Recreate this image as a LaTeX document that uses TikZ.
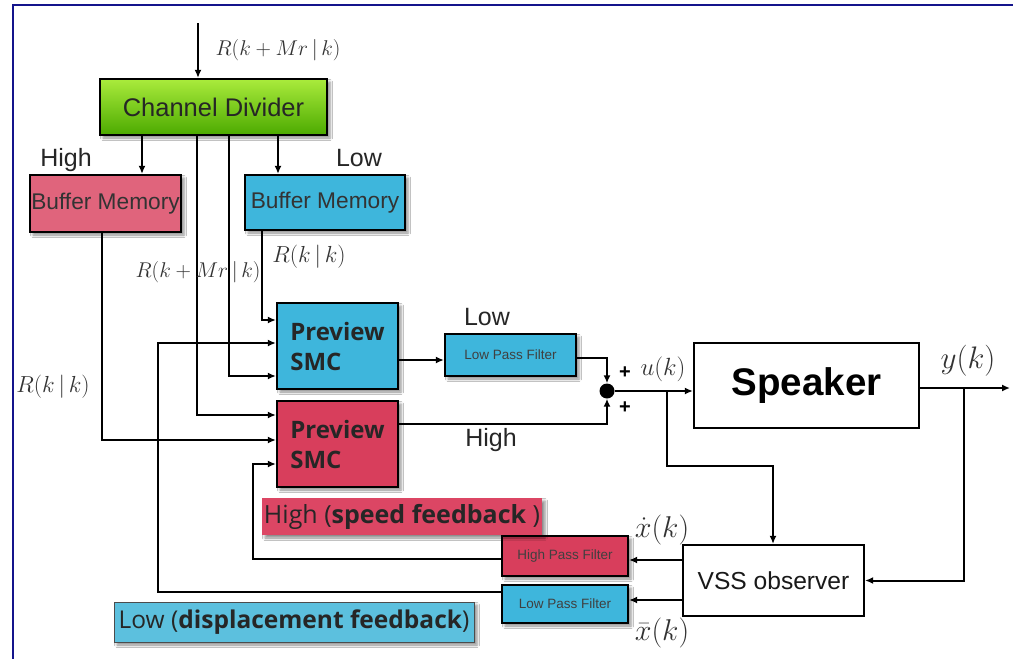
\documentclass[tikz,border=0pt]{standalone}
\usepackage{fontspec}
\setmainfont{Liberation Sans}
\newfontfamily\osans{Open Sans}
\usetikzlibrary{arrows.meta,shadows.blur,calc}
\definecolor{navyb}{RGB}{20,20,140}
\definecolor{gtop}{RGB}{170,235,60}
\definecolor{gbot}{RGB}{76,170,0}
\definecolor{pinkb}{RGB}{224,100,124}
\definecolor{blueb}{RGB}{62,182,220}
\definecolor{redb}{RGB}{216,62,92}
\definecolor{redl}{RGB}{220,70,100}
\definecolor{bluel}{RGB}{92,192,222}
\tikzset{
  shad/.style={blur shadow={shadow xshift=3pt,shadow yshift=-3pt,shadow blur radius=2.5pt,shadow opacity=45}},
  blk/.style={draw=black,line width=2.2pt,inner sep=0pt,shad},
  plain/.style={draw=black,line width=2.2pt,inner sep=0pt},
  conn/.style={line width=2pt,-{Latex[length=8pt,width=7pt]}},
  mlab/.style={font=\fontsize{20.74}{24}\selectfont,inner sep=0pt,anchor=base,text=black!80},
  tlab/.style={font=\fontsize{25}{28}\selectfont,inner sep=0pt,anchor=base,text=black!85},
  small/.style={font=\fontsize{13.5}{16}\selectfont,text=black!75},
  smc/.style={blk,minimum width=121pt,minimum height=86pt,align=left,font=\osans\bfseries\fontsize{24}{30}\selectfont,text=black!85},
}
\begin{document}
\begin{tikzpicture}[x=1pt,y=-1pt]
\useasboundingbox (0,0) rectangle (1013,659);
\fill[white] (0,0) rectangle (1013,659);
\draw[navyb,line width=2pt] (13,659) -- (13,5) -- (1013,5);

% boxes
\node[blk,top color=gtop,bottom color=gbot,minimum width=227pt,minimum height=56pt,font=\fontsize{25.5}{30}\selectfont,text=black!85] (cd) at (213.5,107) {Channel Divider};
\node[blk,fill=pinkb,minimum width=151pt,minimum height=57pt,font=\fontsize{22.7}{25}\selectfont,text=black!80] (bmH) at (105.5,203.5) {Buffer Memory};
\node[blk,fill=blueb,minimum width=160pt,minimum height=55pt,font=\fontsize{22.7}{25}\selectfont,text=black!80] (bmL) at (325,202.5) {Buffer Memory};
\node[smc,fill=blueb] (smcL) at (337.5,346) {Preview\\SMC};
\node[smc,fill=redb] (smcH) at (337.5,444) {Preview\\SMC};
\node[blk,small,fill=blueb,minimum width=131pt,minimum height=42pt] (lpf1) at (510.5,355) {Low Pass Filter};
\node[circle,fill=black,minimum size=15pt,inner sep=0pt] (sum) at (607,391) {};
\node[plain,fill=white,minimum width=225pt,minimum height=85pt,font=\bfseries\fontsize{38.5}{40}\selectfont] (spk) at (806.5,385.5) {Speaker};
\node[plain,fill=white,minimum width=181pt,minimum height=71pt,font=\fontsize{24.6}{28}\selectfont,text=black!90] (vss) at (773.5,580.5) {VSS observer};
\node[blk,small,fill=redb,minimum width=126pt,minimum height=40pt] (hpf) at (565,556) {High Pass Filter};
\node[blk,small,fill=blueb,minimum width=126pt,minimum height=38pt] (lpf2) at (565,604) {Low Pass Filter};
\node[shad,fill=redl,minimum width=280pt,minimum height=37pt,inner sep=0pt,font=\osans\fontsize{25}{28}\selectfont,text=black!85] (fbH) at (402,516.5) {High (\textbf{speed feedback} )};
\node[shad,fill=bluel,draw=black!70,line width=1pt,minimum width=360pt,minimum height=40pt,inner sep=0pt,font=\osans\fontsize{24.5}{28}\selectfont,text=black!85] (fbL) at (294,622) {Low (\textbf{displacement feedback})};

% helper coordinates
\path (142,0) coordinate (xH) (278,0) coordinate (xL) (197,0) coordinate (xa) (229,0) coordinate (xb)
      (262,0) coordinate (xbl) (102,0) coordinate (xbh) (158,0) coordinate (xfl) (253,0) coordinate (xfh)
      (607,0) coordinate (xs) (667,0) coordinate (xu) (773,0) coordinate (xv) (964,0) coordinate (xy);
\path (0,320) coordinate (y1) (0,343) coordinate (y2) (0,376) coordinate (y3) (0,415) coordinate (y4)
      (0,440) coordinate (y5) (0,464) coordinate (y6) (0,592) coordinate (yfl) (0,559) coordinate (yfh)
      (0,360) coordinate (ysl) (0,358) coordinate (ylo) (0,424) coordinate (yhi) (0,466) coordinate (yb)
      (0,560) coordinate (yv1) (0,600) coordinate (yv2);
\coordinate (in) at (198,23);
\coordinate (yout) at (1010,388);

% connectors
\draw[conn] (in) -- (in |- cd.north);
\draw[conn] (cd.south -| xH) -- (bmH.north -| xH);
\draw[conn] (cd.south -| xL) -- (bmL.north -| xL);
\draw[conn] (cd.south -| xa) -- (xa |- y4) -- (smcH.west |- y4);
\draw[conn] (cd.south -| xb) -- (xb |- y3) -- (smcL.west |- y3);
\draw[conn] (bmL.south -| xbl) -- (xbl |- y1) -- (smcL.west |- y1);
\draw[conn] (bmH.south -| xbh) -- (xbh |- y5) -- (smcH.west |- y5);
\draw[conn] (lpf2.west |- yfl) -- (xfl |- yfl) -- (xfl |- y2) -- (smcL.west |- y2);
\draw[conn] (hpf.west |- yfh) -- (xfh |- yfh) -- (xfh |- y6) -- (smcH.west |- y6);
\draw[conn] (smcL.east |- ysl) -- (lpf1.west |- ysl);
\draw[conn] (lpf1.east |- ylo) -- (xs |- ylo) -- (sum.north);
\draw[conn] (smcH.east |- yhi) -- (xs |- yhi) -- (sum.south);
\draw[conn] (sum.east) -- (sum -| spk.west);
\draw[conn] (sum -| xu) -- (xu |- yb) -- (xv |- yb) -- (vss.north -| xv);
\draw[conn] (spk.east |- yout) -- (yout);
\draw[conn] (xy |- yout) -- (xy |- vss.east) -- (vss.east);
\draw[conn] (vss.west |- yv1) -- (hpf.east |- yv1);
\draw[conn] (vss.west |- yv2) -- (lpf2.east |- yv2);

% labels
\node[mlab,scale=1.03] (l1) at (278,55) {$R(k+Mr\,|\,k)$};
\node[mlab,scale=1.12] (l2) at (309,262) {$R(k\,|\,k)$};
\node[mlab,scale=1.03] (l3) at (198,277) {$R(k+Mr\,|\,k)$};
\node[mlab,scale=1.12] (l4) at (53,392) {$R(k\,|\,k)$};
\node[mlab,scale=1.2] (lu) at (663,375) {$u(k)$};
\node[mlab,scale=1.5] (ly) at (968,368) {$y(k)$};
\node[mlab,scale=1.45] (lxd) at (662,537) {$\dot{x}(k)$};
\node[mlab,scale=1.45] (lxb) at (662,640) {$\bar{x}(k)$};
\node[tlab] (tH) at (66,166) {High};
\node[tlab] (tL) at (359,166) {Low};
\node[tlab] (tL2) at (487,325) {Low};
\node[tlab] (tH2) at (491,446) {High};
\node[font=\bfseries\fontsize{20}{20}\selectfont,inner sep=0pt] (p1) at (625,373) {+};
\node[font=\bfseries\fontsize{20}{20}\selectfont,inner sep=0pt] (p2) at (625,408) {+};
\end{tikzpicture}
\end{document}
